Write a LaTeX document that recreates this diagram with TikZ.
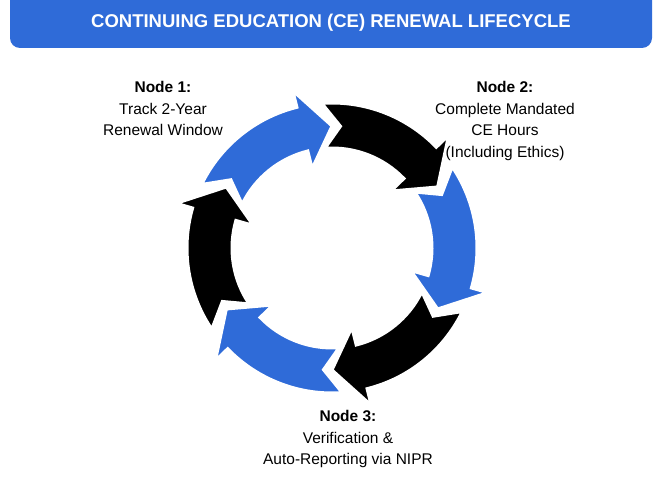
\documentclass[tikz,border=0pt]{standalone}
\usepackage{fontspec}
\setmainfont{Liberation Sans}
\usetikzlibrary{positioning}
\definecolor{ceblue}{HTML}{2F6BD8}
\tikzset{
    bande/.style={draw=white, line width=3pt, line join=miter},
    etiquette/.style={align=center, font=\fontsize{15.5}{21.5}\selectfont, anchor=north},
}
% fleche circulaire : angle de depart, angle d'arrivee, couleur
\newcommand{\flecheanneau}[3]{%
  \fill[bande, fill=#3] (#1:145) arc[start angle=#1, end angle=#2+14, radius=145]
    -- (#2+14:162) -- (#2:122) -- (#2+14:82) -- (#2+14:100)
    arc[start angle=#2+14, end angle=#1, radius=100] -- (#1-8:122) -- cycle;}
\begin{document}
\begin{tikzpicture}[x=1pt,y=1pt]
\useasboundingbox (0,0) rectangle (662,497);
\fill[white] (0,0) rectangle (662,497);

% Titre
\fill[ceblue, rounded corners=10pt] (10,449) rectangle (652,510);
\node[text=white, font=\bfseries\fontsize{18.5}{22}\selectfont] (titre) at (331,474)
  {CONTINUING EDUCATION (CE) RENEWAL LIFECYCLE};

% Anneau de fleches
\begin{scope}[shift={(332,249)}]
  \flecheanneau{94}{30}{black}
  \flecheanneau{34}{-30}{ceblue}
  \flecheanneau{-26}{-90}{black}
  \flecheanneau{-86}{-150}{ceblue}
  \flecheanneau{-146}{-210}{black}
  \flecheanneau{154}{90}{ceblue}
\end{scope}

% Etiquettes
\node[etiquette] (etape1) at (163,419) {\textbf{Node 1:}\\Track 2-Year\\Renewal Window};
\node[etiquette] (etape2) at (505,419) {\textbf{Node 2:}\\Complete Mandated\\CE Hours\\(Including Ethics)};
\node[etiquette] (etape3) at (348,90) {\textbf{Node 3:}\\Verification \&\\Auto-Reporting via NIPR};
\end{tikzpicture}
\end{document}
